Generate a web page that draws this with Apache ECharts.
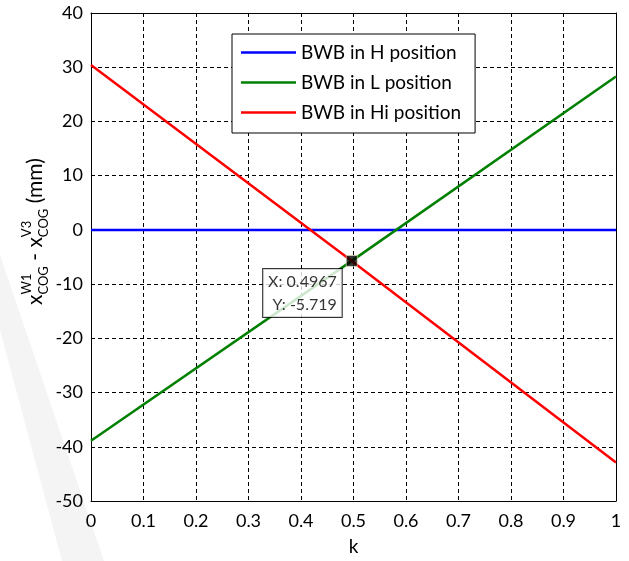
<!DOCTYPE html>
<html>
<head>
<meta charset="utf-8">
<script src="https://cdn.jsdelivr.net/npm/echarts@6/dist/echarts.min.js"></script>
<style>
  html, body { margin: 0; padding: 0; background: #fff; }
  #chart { width: 629px; height: 561px; }
</style>
</head>
<body>
<div id="chart"></div>
<script>
// Offset between the two COG positions as a function of k
const kValues = [0, 0.4967, 1];
const hPosition = [0, 0, 0];
const lPosition = [-38.9, -5.719, 28.3];
const hiPosition = [30.4, -5.719, -42.9];

const seriesNames = ['BWB in H position', 'BWB in L position', 'BWB in Hi position'];
const seriesColors = ['#0000ff', '#008000', '#ff0000'];

// Crossing point of the L and Hi curves, shown with a data tip
const tipK = 0.4967;
const tipY = -5.719;

const xTicks = { min: 0, max: 1, interval: 0.1 };
const yTicks = { min: -50, max: 40, interval: 10 };

const FONT = 'Lato';
const MAIN_SIZE = 21;
const SCRIPT_SIZE = 13;

function pairs(xs, ys) {
  return xs.map((x, i) => [x, ys[i]]);
}

// Text measuring for laying out the rotated y-axis label piece by piece
const measureCtx = document.createElement('canvas').getContext('2d');
function textWidth(text, size) {
  measureCtx.font = size + 'px ' + FONT;
  return measureCtx.measureText(text).width;
}

function rotatedText(text, x, y, size) {
  return {
    type: 'text',
    x: x,
    y: y,
    rotation: Math.PI / 2,
    silent: true,
    style: {
      text: text,
      fill: '#000',
      fontFamily: FONT,
      fontSize: size,
      align: 'left',
      verticalAlign: 'middle',
      textAlign: 'left',
      textVerticalAlign: 'middle'
    }
  };
}

// y label: x_COG^W1 - x_COG^V3 (mm), read bottom to top
function buildYLabel(startY) {
  const mainX = 35, subX = 44, supX = 27;
  const parts = [
    { main: 'x' },
    { sub: 'COG', sup: 'W1' },
    { main: ' - ' },
    { main: 'x' },
    { sub: 'COG', sup: 'V3' },
    { main: ' (mm)' }
  ];
  const out = [];
  let cursor = startY;
  parts.forEach(p => {
    if (p.main) {
      out.push(rotatedText(p.main, mainX, cursor, MAIN_SIZE));
      cursor -= textWidth(p.main, MAIN_SIZE);
    } else {
      out.push(rotatedText(p.sub, subX, cursor, SCRIPT_SIZE));
      out.push(rotatedText(p.sup, supX, cursor, SCRIPT_SIZE));
      cursor -= Math.max(textWidth(p.sub, SCRIPT_SIZE), textWidth(p.sup, SCRIPT_SIZE));
    }
  });
  return out;
}

const chart = echarts.init(document.getElementById('chart'), null, { renderer: 'canvas' });

const gridLine = { show: true, lineStyle: { color: '#000', width: 1, type: [4, 3] } };
const boxLine = { show: true, onZero: false, lineStyle: { color: '#000', width: 1 } };

const option = {
  backgroundColor: '#fff',
  animation: false,
  grid: { left: 91, right: 13, top: 13, bottom: 54, containLabel: false },
  legend: {
    orient: 'vertical',
    left: 232,
    top: 34,
    padding: [9, 14, 11, 9],
    icon: 'rect',
    itemWidth: 55,
    itemHeight: 2.5,
    itemGap: 11,
    borderColor: '#000',
    borderWidth: 1,
    backgroundColor: '#fff',
    textStyle: { fontFamily: FONT, fontSize: 19, color: '#000' },
    data: seriesNames
  },
  xAxis: [
    {
      type: 'value',
      position: 'bottom',
      min: xTicks.min, max: xTicks.max, interval: xTicks.interval,
      name: 'k',
      nameLocation: 'middle',
      nameGap: 36,
      nameTextStyle: { fontFamily: FONT, fontSize: 19, color: '#000' },
      axisLine: boxLine,
      axisTick: { show: false },
      axisLabel: {
        fontFamily: FONT, fontSize: 18, color: '#000', margin: 11,
        formatter: v => String(+v.toFixed(1))
      },
      splitLine: gridLine
    },
    {
      type: 'value',
      position: 'top',
      min: xTicks.min, max: xTicks.max, interval: xTicks.interval,
      axisLine: boxLine,
      axisTick: { show: false },
      axisLabel: { show: false },
      splitLine: { show: false }
    }
  ],
  yAxis: [
    {
      type: 'value',
      position: 'left',
      min: yTicks.min, max: yTicks.max, interval: yTicks.interval,
      axisLine: boxLine,
      axisTick: { show: false },
      axisLabel: { fontFamily: FONT, fontSize: 18, color: '#000', margin: 8 },
      splitLine: gridLine
    },
    {
      type: 'value',
      position: 'right',
      min: yTicks.min, max: yTicks.max, interval: yTicks.interval,
      axisLine: boxLine,
      axisTick: { show: false },
      axisLabel: { show: false },
      splitLine: { show: false }
    }
  ],
  graphic: [
    // faint diagonal band in the page background
    {
      type: 'polygon',
      silent: true,
      z: -10,
      shape: { points: [[0, 255], [0, 330], [62, 561], [104, 561]] },
      style: { fill: '#f4f4f4' }
    }
  ].concat(buildYLabel(305)),
  series: [
    {
      name: seriesNames[0], type: 'line', data: pairs(kValues, hPosition),
      symbol: 'none', color: seriesColors[0], lineStyle: { width: 2.5 }, z: 3
    },
    {
      name: seriesNames[1], type: 'line', data: pairs(kValues, lPosition),
      symbol: 'none', color: seriesColors[1], lineStyle: { width: 2.5 }, z: 4
    },
    {
      name: seriesNames[2], type: 'line', data: pairs(kValues, hiPosition),
      symbol: 'none', color: seriesColors[2], lineStyle: { width: 2.5 }, z: 5
    },
    {
      type: 'scatter',
      data: [[tipK, tipY]],
      symbol: 'rect',
      symbolSize: 11,
      itemStyle: { color: '#000', borderColor: '#f0f0c8', borderWidth: 0.8 },
      z: 10,
      label: {
        show: true,
        position: 'inside',
        offset: [-10, 8],
        align: 'right',
        verticalAlign: 'top',
        formatter: p => 'X: ' + p.value[0] + '\nY: ' + p.value[1],
        fontFamily: FONT,
        fontSize: 16,
        lineHeight: 23,
        color: '#000',
        backgroundColor: '#fff',
        borderColor: '#000',
        borderWidth: 1,
        padding: [1, 5, 1, 5]
      }
    }
  ]
};

chart.setOption(option);
</script>
</body>
</html>
